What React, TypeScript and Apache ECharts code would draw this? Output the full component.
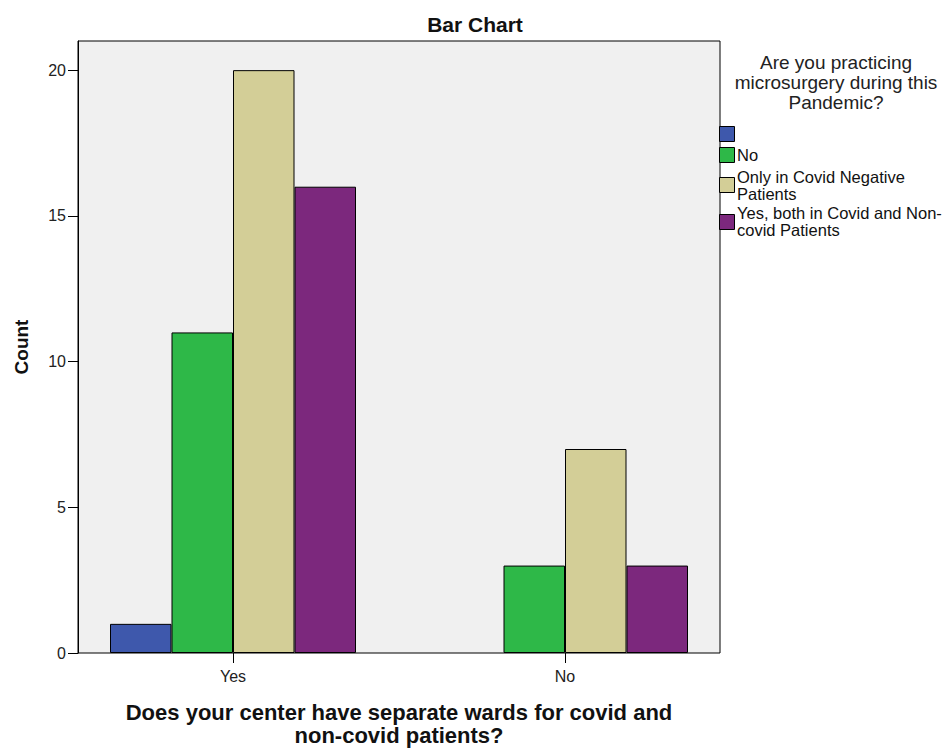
import React, { useEffect, useRef } from "react";
import * as echarts from "echarts";

const categories = ["Yes", "No"];
const seriesNames = [
  "",
  "No",
  "Only in Covid Negative\nPatients",
  "Yes, both in Covid and Non-\ncovid Patients",
];
const blankValues: (number | null)[] = [1, null];
const noValues: (number | null)[] = [11, 3];
const onlyNegValues: (number | null)[] = [20, 7];
const bothValues: (number | null)[] = [16, 3];
const seriesValues = [blankValues, noValues, onlyNegValues, bothValues];
const colors = ["#3E58AC", "#2EB848", "#D3CE97", "#7C287D"];
const yTicks = { min: 0, max: 21, interval: 5 };

const FONT = "'Liberation Sans', Arial, sans-serif";

export default function App() {
  const ref = useRef<HTMLDivElement>(null);
  useEffect(() => {
    if (!ref.current) return;
    const chart = echarts.init(ref.current, undefined, { renderer: "svg" });

    const legendRows = [
      { y: 126, textY: 133.5 },
      { y: 147, textY: 155 },
      { y: 177, textY: 185 },
      { y: 214, textY: 221 },
    ];

    const graphic: any[] = [
      {
        type: "text",
        x: 836,
        y: 52,
        style: {
          text: "Are you practicing\nmicrosurgery during this\nPandemic?",
          font: `19px ${FONT}`,
          fill: "#222",
          align: "center",
          verticalAlign: "top",
          lineHeight: 20,
        },
      },
    ];
    seriesNames.forEach((name, i) => {
      graphic.push({
        type: "rect",
        shape: { x: 719.5, y: legendRows[i].y + 0.5, width: 15, height: 15 },
        style: { fill: colors[i], stroke: "#000", lineWidth: 1 },
      });
      if (name) {
        graphic.push({
          type: "text",
          x: 737,
          y: legendRows[i].textY,
          style: {
            text: name,
            font: `16.5px ${FONT}`,
            fill: "#111",
            align: "left",
            verticalAlign: "middle",
            lineHeight: 17,
          },
        });
      }
    });

    chart.setOption({
      animation: false,
      backgroundColor: "#fff",
      title: {
        text: "Bar Chart",
        left: 470,
        textAlign: "center",
        top: 9,
        textStyle: { fontFamily: FONT, fontSize: 21, fontWeight: "bold", color: "#111" },
      },
      grid: [
        {
          left: 78,
          top: 41,
          width: 642,
          height: 612,
          show: true,
          backgroundColor: "#F0F0F0",
          borderColor: "#000",
          borderWidth: 1,
          outerBoundsMode: "none",
          containLabel: false,
        },
        {
          left: 67,
          top: 41,
          width: 664,
          height: 612,
          show: false,
          outerBoundsMode: "none",
          containLabel: false,
        },
      ],
      xAxis: [
        {
          gridIndex: 0,
          type: "category",
          data: categories,
          show: false,
        },
        {
          gridIndex: 1,
          type: "category",
          data: categories,
          axisLine: { show: false },
          axisTick: { show: true, alignWithLabel: true, length: 10, lineStyle: { color: "#000" } },
          axisLabel: { fontFamily: FONT, fontSize: 16, color: "#222", margin: 15 },
          name: "Does your center have separate wards for covid and\nnon-covid patients?",
          nameLocation: "middle",
          nameGap: 48,
          nameTextStyle: {
            fontFamily: FONT,
            fontSize: 22,
            fontWeight: "bold",
            color: "#111",
            lineHeight: 23,
            verticalAlign: "top",
          },
        },
      ],
      yAxis: [
        {
          gridIndex: 0,
          type: "value",
          min: yTicks.min,
          max: yTicks.max,
          interval: yTicks.interval,
          axisLine: { show: true, lineStyle: { color: "#000" } },
          axisTick: { show: true, inside: false, length: 10, lineStyle: { color: "#000" } },
          axisLabel: { fontFamily: FONT, fontSize: 16, color: "#222", margin: 12, showMaxLabel: false },
          splitLine: { show: false },
          name: "Count",
          nameLocation: "middle",
          nameGap: 47,
          nameTextStyle: { fontFamily: FONT, fontSize: 19, fontWeight: "bold", color: "#111" },
        },
        {
          gridIndex: 1,
          type: "value",
          min: yTicks.min,
          max: yTicks.max,
          show: false,
          splitLine: { show: false },
        },
      ],
      series: seriesNames.map((name, i) => ({
        type: "bar",
        name: name || " ",
        xAxisIndex: 1,
        yAxisIndex: 1,
        data: seriesValues[i].map((v) => (v === null ? "-" : v)),
        barWidth: 61.5,
        barGap: "0%",
        itemStyle: { color: colors[i], borderColor: "#000", borderWidth: 1 },
      })),
      graphic,
    });
    return () => chart.dispose();
  }, []);
  return (
    <div
      ref={ref}
      style={{ position: "absolute", left: 0, top: 0, width: 950, height: 749 }}
    />
  );
}
